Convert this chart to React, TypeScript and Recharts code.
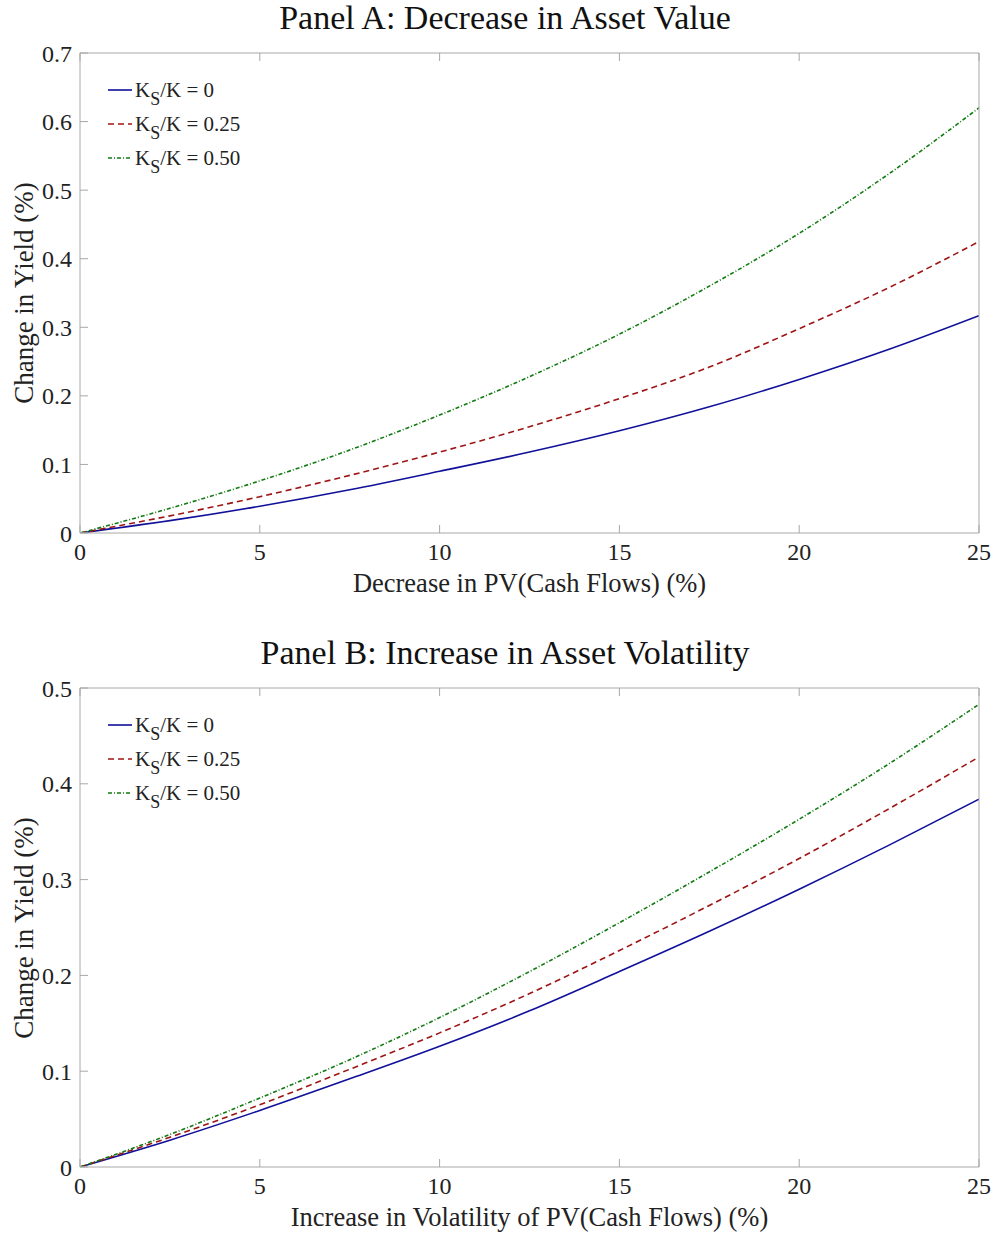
import React from "react";
import { LineChart, Line, XAxis, YAxis } from "recharts";

const xValues = [0, 2.5, 5, 7.5, 10, 12.5, 15, 17.5, 20, 22.5, 25];

const panelA_k0 = [0, 0.018, 0.039, 0.063, 0.09, 0.118, 0.149, 0.184, 0.224, 0.268, 0.317];
const panelA_k25 = [0, 0.025, 0.053, 0.084, 0.118, 0.155, 0.196, 0.242, 0.298, 0.358, 0.425];
const panelA_k50 = [0, 0.036, 0.076, 0.121, 0.172, 0.228, 0.29, 0.36, 0.437, 0.524, 0.62];

const panelB_k0 = [0, 0.028, 0.059, 0.092, 0.126, 0.163, 0.204, 0.246, 0.29, 0.336, 0.384];
const panelB_k25 = [0, 0.031, 0.065, 0.102, 0.14, 0.181, 0.226, 0.273, 0.322, 0.374, 0.428];
const panelB_k50 = [0, 0.034, 0.072, 0.112, 0.156, 0.204, 0.255, 0.308, 0.363, 0.421, 0.483];

const xTicks = [0, 5, 10, 15, 20, 25];
const yTicksA = [0, 0.1, 0.2, 0.3, 0.4, 0.5, 0.6, 0.7];
const yTicksB = [0, 0.1, 0.2, 0.3, 0.4, 0.5];

const legendLabels = ["0", "0.25", "0.50"];
const seriesColors = ["#10109a", "#9e1414", "#117a11"];
const seriesDash = [undefined, "6 4", "4 2 1 2"];

const FONT = "'Liberation Serif', 'DejaVu Serif', serif";
const AXIS_COLOR = "#a8a8a8";
const TEXT_COLOR = "#222";

function buildRows(a: number[], b: number[], c: number[]) {
  return xValues.map((x, i) => ({ x, k0: a[i], k25: b[i], k50: c[i] }));
}

const LegendBox = ({ left, top }: { left: number; top: number }) => (
  <div
    style={{
      position: "absolute",
      left,
      top,
      fontFamily: FONT,
      fontSize: 21,
      color: TEXT_COLOR,
      lineHeight: "34px",
      zIndex: 2,
    }}
  >
    {legendLabels.map((lab, i) => (
      <div key={i} style={{ display: "flex", alignItems: "center", height: 34 }}>
        <svg width={26} height={10} style={{ marginRight: 1 }}>
          <line x1={0} x2={24} y1={5} y2={5} stroke={seriesColors[i]} strokeWidth={1.6} strokeDasharray={seriesDash[i]} />
        </svg>
        <span>
          K<sub style={{ fontSize: 18, verticalAlign: "-8px", lineHeight: 0 }}>S</sub>/K = {lab}
        </span>
      </div>
    ))}
  </div>
);

type PanelProps = {
  rows: any[];
  yTicks: number[];
  yMax: number;
  title: string;
  xLabel: string;
  plotTop: number;
  plotBottom: number;
  height: number;
};

const yFmt = (v: number) => (v === 0 ? "0" : String(v));

const Panel = ({ rows, yTicks, yMax, title, xLabel, plotTop, plotBottom, height }: PanelProps) => {
  const width = 995;
  const plotLeft = 80;
  const plotRight = 979;
  const bottomAxisH = 30;
  const tickStyle = { fontFamily: FONT, fontSize: 24, fill: TEXT_COLOR };
  return (
    <div style={{ position: "relative", width, height }}>
      <div
        style={{
          position: "absolute",
          left: 0,
          width: 1010,
          top: plotTop - 55,
          textAlign: "center",
          fontFamily: FONT,
          fontSize: 34,
          color: "#111",
          lineHeight: "40px",
        }}
      >
        {title}
      </div>
      <div
        style={{
          position: "absolute",
          left: plotLeft,
          width: plotRight - plotLeft,
          top: plotBottom + 35,
          textAlign: "center",
          fontFamily: FONT,
          fontSize: 26.5,
          color: TEXT_COLOR,
          lineHeight: "30px",
        }}
      >
        {xLabel}
      </div>
      <div
        style={{
          position: "absolute",
          left: 24 - 150,
          top: (plotTop + plotBottom) / 2 - 15,
          width: 300,
          height: 30,
          textAlign: "center",
          fontFamily: FONT,
          fontSize: 27,
          color: TEXT_COLOR,
          lineHeight: "30px",
          transform: "rotate(-90deg)",
        }}
      >
        Change in Yield (%)
      </div>
      <LegendBox left={108} top={plotTop + 20} />
      <div style={{ position: "absolute", left: 0, top: 0 }}>
        <LineChart
          width={width}
          height={height}
          data={rows}
          margin={{ top: plotTop - 1, left: 0, right: width - plotRight - 1, bottom: height - plotBottom - bottomAxisH }}
        >
          <XAxis
            xAxisId="b"
            dataKey="x"
            type="number"
            domain={[0, 25]}
            ticks={xTicks}
            orientation="bottom"
            height={bottomAxisH}
            tickSize={-8}
            tickMargin={18}
            tick={tickStyle}
            stroke={AXIS_COLOR}
            allowDataOverflow
          />
          <XAxis
            xAxisId="t"
            dataKey="x"
            type="number"
            domain={[0, 25]}
            ticks={xTicks}
            orientation="top"
            height={1}
            tickSize={-8}
            tick={() => <g />}
            stroke={AXIS_COLOR}
          />
          <YAxis
            yAxisId="l"
            type="number"
            domain={[0, yMax]}
            ticks={yTicks}
            orientation="left"
            width={plotLeft}
            tickSize={-8}
            tickMargin={16}
            tick={tickStyle}
            tickFormatter={yFmt}
            stroke={AXIS_COLOR}
            allowDataOverflow
          />
          <YAxis
            yAxisId="r"
            type="number"
            domain={[0, yMax]}
            ticks={yTicks}
            orientation="right"
            width={1}
            tickSize={-8}
            tick={() => <g />}
            stroke={AXIS_COLOR}
          />
          {["k0", "k25", "k50"].map((k, i) => (
            <Line
              key={k}
              xAxisId="b"
              yAxisId="l"
              dataKey={k}
              type="monotone"
              stroke={seriesColors[i]}
              strokeWidth={1.6}
              strokeDasharray={seriesDash[i]}
              dot={false}
              isAnimationActive={false}
            />
          ))}
        </LineChart>
      </div>
    </div>
  );
};

export default function App() {
  return (
    <div style={{ position: "absolute", left: 0, top: 0, width: 995, height: 1234, background: "#fff", overflow: "hidden" }}>
      <Panel
        rows={buildRows(panelA_k0, panelA_k25, panelA_k50)}
        yTicks={yTicksA}
        yMax={0.7}
        title="Panel A: Decrease in Asset Value"
        xLabel="Decrease in PV(Cash Flows) (%)"
        plotTop={53}
        plotBottom={533}
        height={617}
      />
      <Panel
        rows={buildRows(panelB_k0, panelB_k25, panelB_k50)}
        yTicks={yTicksB}
        yMax={0.5}
        title="Panel B: Increase in Asset Volatility"
        xLabel="Increase in Volatility of PV(Cash Flows) (%)"
        plotTop={71}
        plotBottom={550}
        height={617}
      />
    </div>
  );
}
